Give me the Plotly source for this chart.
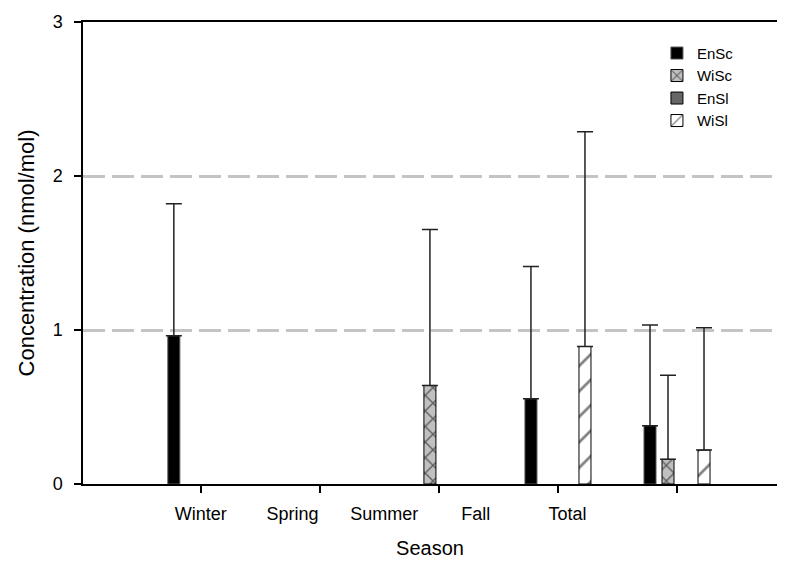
import plotly.graph_objects as go

categories = ["Winter", "Spring", "Summer", "Fall", "Total"]
series_names = ["EnSc", "WiSc", "EnSl", "WiSl"]
ensc = [0.963, None, None, 0.554, 0.379]
ensc_err = [0.857, None, None, 0.859, 0.653]
wisc = [None, None, 0.640, None, 0.160]
wisc_err = [None, None, 1.013, None, 0.546]
ensl = [None, None, None, None, None]
ensl_err = [None, None, None, None, None]
wisl = [None, None, None, 0.893, 0.220]
wisl_err = [None, None, None, 1.395, 0.795]
y_ticks = [0, 1, 2, 3]

FONT = "Arial, Liberation Sans, sans-serif"
xpos = list(range(len(categories)))
# label positions (the original software places labels on a different spacing than ticks)
label_pos = [i * 0.77 for i in xpos]

styles = [
    dict(color="black", line=dict(color="#555", width=1)),
    dict(color="#c0c0c0", line=dict(color="black", width=1),
         pattern=dict(shape="x", fgcolor="black", bgcolor="#c0c0c0", size=11, solidity=0.25)),
    dict(color="#666666", line=dict(color="black", width=1)),
    dict(color="white", line=dict(color="black", width=1),
         pattern=dict(shape="/", fgcolor="black", bgcolor="white", size=18, solidity=0.15)),
]
vals = [ensc, wisc, ensl, wisl]
errs = [ensc_err, wisc_err, ensl_err, wisl_err]

fig = go.Figure()
for name, v, e, st in zip(series_names, vals, errs, styles):
    fig.add_trace(go.Bar(
        x=xpos, y=v, name=name, marker=st,
        error_y=dict(type="data", symmetric=False, array=e,
                     arrayminus=[0 if a is not None else None for a in e],
                     color="#222", thickness=1.5, width=8),
    ))

fig.update_layout(
    width=792, height=564,
    margin=dict(l=83, r=15, t=16, b=80),
    paper_bgcolor="white", plot_bgcolor="white",
    barmode="group", bargap=0.395, bargroupgap=1/3,
    font=dict(family=FONT, size=15, color="black"),
    legend=dict(x=0.827, y=0.968, xanchor="left", yanchor="top",
                font=dict(size=15), bgcolor="rgba(0,0,0,0)", tracegroupgap=0),
    xaxis=dict(range=[-0.99, 4.84], tickvals=xpos, ticktext=["" for _ in xpos],
               ticks="outside", ticklen=7, tickwidth=1.5, tickcolor="black",
               showline=True, linecolor="black", linewidth=1.5, mirror=True,
               showgrid=False, zeroline=False,
               title=dict(text="Season", font=dict(size=20), standoff=46)),
    xaxis2=dict(range=[-0.99, 4.84], overlaying="x", anchor="y", side="bottom",
                tickvals=label_pos, ticktext=categories,
                ticks="outside", ticklen=13, tickcolor="rgba(0,0,0,0)",
                showline=False, showgrid=False, zeroline=False,
                tickfont=dict(size=18)),
    yaxis=dict(range=[0, 3], tickvals=y_ticks, ticks="outside", ticklen=7,
               tickwidth=1.5, tickcolor="black",
               showline=True, linecolor="black", linewidth=1.5,
               showgrid=True, gridcolor="#c4c4c4", gridwidth=3, griddash="22px,7px",
               zeroline=False, tickfont=dict(size=18), ticklabelstandoff=8,
               title=dict(text="Concentration (nmol/mol)", font=dict(size=22), standoff=12)),
)
# dummy trace to activate xaxis2
fig.add_trace(go.Scatter(x=[label_pos[0]], y=[None], xaxis="x2", showlegend=False,
                         hoverinfo="skip"))

fig.write_html("out.html")
